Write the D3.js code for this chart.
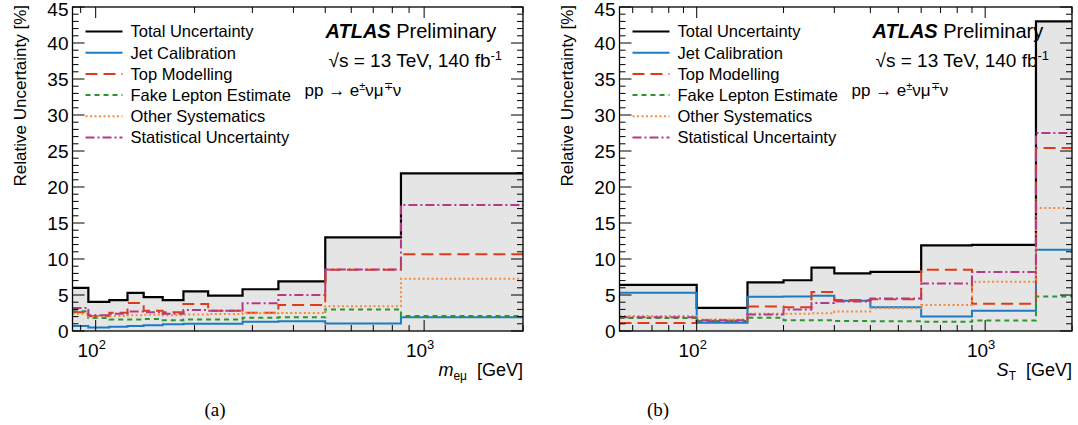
<!DOCTYPE html>
<html><head><meta charset="utf-8">
<script src="https://cdn.jsdelivr.net/npm/d3@7"></script>
<style>body{margin:0;background:#fff}svg{display:block}text{font-family:"Liberation Sans",Arial,sans-serif}</style>
</head><body><svg id="c" width="1078" height="425"></svg>
<script>
// ---- data ----
const mllEdges = [85, 95, 110, 125, 140, 160, 185, 220, 280, 360, 500, 850, 2000];
const mllTotal = [6.0, 4.05, 4.3, 5.3, 4.7, 4.3, 5.5, 4.9, 5.8, 6.9, 13.0, 21.9];
const mllJet   = [0.7, 0.5, 0.6, 0.7, 0.8, 0.95, 1.0, 1.0, 1.3, 1.35, 1.05, 1.9];
const mllTop   = [2.6, 2.1, 2.55, 3.9, 2.8, 2.6, 3.75, 2.8, 2.55, 3.6, 8.5, 10.65];
const mllFake  = [2.75, 1.8, 1.6, 1.6, 1.65, 1.5, 1.6, 1.6, 1.85, 1.9, 3.0, 2.1];
const mllOther = [2.4, 2.0, 2.1, 2.2, 2.25, 2.2, 2.3, 2.35, 2.45, 2.5, 3.45, 7.25];
const mllStat  = [3.2, 2.2, 2.4, 2.7, 2.6, 2.4, 2.9, 2.8, 3.85, 5.0, 8.55, 17.5];

const stEdges = [54, 100, 150, 200, 250, 300, 400, 600, 900, 1500, 2000];
const stTotal = [6.4, 3.2, 6.75, 7.05, 8.8, 8.0, 8.2, 11.9, 11.95, 43.0];
const stJet   = [5.3, 1.15, 4.77, 4.8, 4.9, 4.2, 3.3, 2.0, 2.8, 11.3];
const stTop   = [1.1, 1.4, 3.4, 3.3, 5.4, 4.3, 4.4, 8.5, 3.8, 25.4];
const stFake  = [1.8, 1.4, 1.85, 1.5, 1.5, 1.4, 1.35, 1.3, 1.45, 4.8];
const stOther = [2.1, 1.6, 2.4, 2.4, 2.45, 2.7, 3.15, 3.6, 6.85, 17.1];
const stStat  = [1.9, 1.5, 2.3, 3.0, 3.9, 4.1, 4.5, 6.6, 8.2, 27.5];

const legendLabels = ["Total Uncertainty", "Jet Calibration", "Top Modelling", "Fake Lepton Estimate", "Other Systematics", "Statistical Uncertainty"];
const yTicks = [0, 5, 10, 15, 20, 25, 30, 35, 40, 45];

// ---- styles ----
const styles = [
  {color: "#000000", width: 2.2, dash: null},
  {color: "#1a7cc4", width: 2, dash: null},
  {color: "#df3b17", width: 2, dash: "12,6"},
  {color: "#2b962b", width: 2, dash: "5,4"},
  {color: "#f98a3a", width: 2, dash: "2,2.5"},
  {color: "#b23a87", width: 2, dash: "9,3,2,3"}
];

const svg = d3.select("#c");

function panel(opt) {
  const {x0, x1, edges, series, xlab, caption, capX} = opt;
  const yTop = 7, yBot = 331;
  const x = d3.scaleLog().domain([edges[0], edges[edges.length - 1]]).range([x0, x1]);
  const y = d3.scaleLinear().domain([0, 45]).range([yBot, yTop]);
  const g = svg.append("g");

  const pts = vals => vals.map((v, i) => [edges[i], v]).concat([[edges[edges.length - 1], vals[vals.length - 1]]]);
  const area = d3.area().x(d => x(d[0])).y0(y(0)).y1(d => y(d[1])).curve(d3.curveStepAfter);
  g.append("path").attr("d", area(pts(series[0]))).attr("fill", "#e5e5e5");
  const line = d3.line().x(d => x(d[0])).y(d => y(d[1])).curve(d3.curveStepAfter);
  series.forEach((vals, k) => {
    const s = styles[k];
    g.append("path").attr("d", line(pts(vals))).attr("fill", "none")
      .attr("stroke", s.color).attr("stroke-width", s.width)
      .attr("stroke-dasharray", s.dash);
  });

  g.append("rect").attr("x", x0).attr("y", yTop).attr("width", x1 - x0).attr("height", yBot - yTop)
    .attr("fill", "none").attr("stroke", "#000").attr("stroke-width", 1.3);

  d3.range(0, 46, 1).forEach(v => {
    const L = v % 5 === 0 ? 12 : 6;
    g.append("line").attr("x1", x0).attr("x2", x0 + L).attr("y1", y(v)).attr("y2", y(v)).attr("stroke", "#000").attr("stroke-width", 1);
    g.append("line").attr("x1", x1).attr("x2", x1 - L).attr("y1", y(v)).attr("y2", y(v)).attr("stroke", "#000").attr("stroke-width", 1);
  });
  yTicks.forEach(v => {
    g.append("text").attr("x", x0 - 4).attr("y", y(v)).attr("dy", v === 45 ? "0.45em" : "0.36em").attr("text-anchor", "end")
      .attr("font-size", 19).text(v);
  });

  x.ticks().forEach(v => {
    const lg = Math.log10(v);
    const major = Math.abs(lg - Math.round(lg)) < 1e-9;
    const L = major ? 11 : 6;
    g.append("line").attr("x1", x(v)).attr("x2", x(v)).attr("y1", yBot).attr("y2", yBot - L).attr("stroke", "#000").attr("stroke-width", 1);
    g.append("line").attr("x1", x(v)).attr("x2", x(v)).attr("y1", yTop).attr("y2", yTop + L).attr("stroke", "#000").attr("stroke-width", 1);
    if (major) {
      const t = g.append("text").attr("x", x(v) - 4).attr("y", 357).attr("text-anchor", "middle").attr("font-size", 19);
      t.append("tspan").text("10");
      t.append("tspan").attr("dy", -8).attr("font-size", 13).text(Math.round(lg));
    }
  });

  g.append("text").attr("transform", `translate(${x0 - 47},${yTop - 2}) rotate(-90)`).attr("text-anchor", "end")
    .attr("font-size", 17).text("Relative Uncertainty [%]");
  const xt = g.append("text").attr("x", x1).attr("y", 376).attr("text-anchor", "end").attr("font-size", 18);
  xlab(xt);

  const lx = x0 + 13, ly = 31.5, dy = 21.2;
  legendLabels.forEach((lab, k) => {
    const s = styles[k];
    g.append("line").attr("x1", lx).attr("x2", lx + 37).attr("y1", ly + k * dy).attr("y2", ly + k * dy)
      .attr("stroke", s.color).attr("stroke-width", s.width).attr("stroke-dasharray", s.dash);
    g.append("text").attr("x", lx + 45).attr("y", ly + k * dy).attr("dy", "0.36em").attr("font-size", 16.5).text(lab);
  });

  const ax = x0 + 253;
  const at = g.append("text").attr("x", ax).attr("y", 38).attr("font-size", 20);
  at.append("tspan").attr("font-weight", "bold").attr("font-style", "italic").text("ATLAS");
  at.append("tspan").text(" Preliminary");
  const st = g.append("text").attr("x", ax + 3).attr("y", 67).attr("font-size", 19);
  st.append("tspan").text("\u221As = 13 TeV, 140 fb");
  st.append("tspan").attr("dy", -7).attr("font-size", 13).text("-1");
  const pp = g.append("text").attr("x", ax - 21).attr("y", 96).attr("font-size", 17);
  pp.append("tspan").text("pp \u2192 e");
  pp.append("tspan").attr("dy", -6).attr("font-size", 11).text("\u00B1");
  pp.append("tspan").attr("dy", 6).text("\u03BD\u03BC");
  pp.append("tspan").attr("dy", -6).attr("font-size", 11).text("\u2213");
  pp.append("tspan").attr("dy", 6).text("\u03BD");

  svg.append("text").attr("x", capX).attr("y", 416).attr("text-anchor", "middle")
    .style("font-family", "'Liberation Serif', 'Times New Roman', serif")
    .attr("font-size", 19).text(caption);
}

panel({
  x0: 72.5, x1: 523, edges: mllEdges,
  series: [mllTotal, mllJet, mllTop, mllFake, mllOther, mllStat],
  xlab: t => {
    t.append("tspan").attr("font-style", "italic").text("m");
    t.append("tspan").attr("font-size", 12).attr("dy", 4).text("e\u03BC");
    t.append("tspan").attr("dy", -4).text("\u00A0\u00A0[GeV]");
  },
  caption: "(a)", capX: 215
});
panel({
  x0: 619.5, x1: 1072, edges: stEdges,
  series: [stTotal, stJet, stTop, stFake, stOther, stStat],
  xlab: t => {
    t.append("tspan").attr("font-style", "italic").text("S");
    t.append("tspan").attr("font-size", 12).attr("dy", 4).text("T");
    t.append("tspan").attr("dy", -4).text("\u00A0\u00A0[GeV]");
  },
  caption: "(b)", capX: 658
});
</script></body></html>
